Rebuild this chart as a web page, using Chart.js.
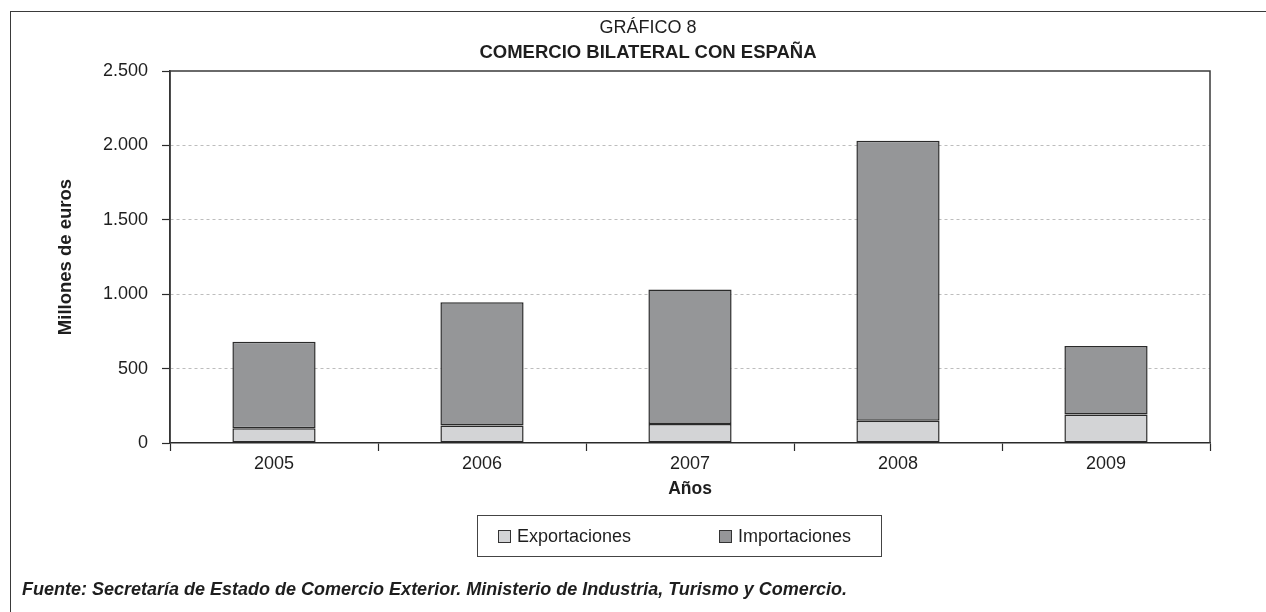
<!DOCTYPE html>
<html><head><meta charset="utf-8">
<script src="https://cdn.jsdelivr.net/npm/chart.js@4.4.1/dist/chart.umd.min.js"></script>
<style>
html,body{margin:0;padding:0;background:#fff;}
body{width:1266px;height:612px;position:relative;overflow:hidden;font-family:"Liberation Sans",Arial,Helvetica,sans-serif;color:#1e1e1e;}
#frame{position:absolute;left:10px;top:11px;width:1300px;height:700px;border:1.5px solid #3a3a3a;box-sizing:border-box;}
#wrap{position:absolute;left:0;top:0;width:1266px;height:612px;}
.ttl{position:absolute;left:398px;width:500px;text-align:center;white-space:nowrap;}
#t1{top:17px;font-size:18px;}
#t2{top:41px;font-size:18.5px;font-weight:bold;}
#legend{position:absolute;left:477px;top:515px;width:405px;height:42px;border:1px solid #444;box-sizing:border-box;font-size:18px;}
#legend .sw{position:absolute;top:14px;width:13px;height:13px;border:1px solid #333;box-sizing:border-box;}
#legend .tx{position:absolute;top:10px;white-space:nowrap;}
#foot{position:absolute;left:22px;top:579px;font-size:18px;font-weight:bold;font-style:italic;white-space:nowrap;}
</style></head>
<body>
<div id="frame"></div>
<div id="wrap"><canvas id="c" width="1266" height="612"></canvas></div>
<div class="ttl" id="t1">GRÁFICO 8</div>
<div class="ttl" id="t2">COMERCIO BILATERAL CON ESPAÑA</div>
<div id="legend"></div>
<div id="foot">Fuente: Secretaría de Estado de Comercio Exterior. Ministerio de Industria, Turismo y Comercio.</div>
<script>
const categories = ['2005','2006','2007','2008','2009'];
const exportaciones = [99, 117, 128, 150, 191];
const importaciones = [582, 829, 903, 1882, 461];
const seriesNames = ['Exportaciones','Importaciones'];
const seriesColors = ['#d3d4d6','#959698'];
const yTickValues = [0, 500, 1000, 1500, 2000, 2500];
const yTitle = 'Millones de euros';
const xTitle = 'Años';

function fmt(v){ return String(v).replace(/\B(?=(\d{3})+(?!\d))/g,'.'); }

const lg = document.getElementById('legend');
const legendX = [20, 241];
seriesNames.forEach((n,i)=>{
  const sw=document.createElement('div'); sw.className='sw'; sw.style.background=seriesColors[i]; sw.style.left=legendX[i]+'px';
  const tx=document.createElement('span'); tx.className='tx'; tx.textContent=n; tx.style.left=(legendX[i]+19)+'px';
  lg.appendChild(sw); lg.appendChild(tx);
});

const plotBorder = {
  id:'plotBorder',
  afterDatasetsDraw(chart){
    const a=chart.chartArea, ctx=chart.ctx;
    ctx.save(); ctx.strokeStyle='#3a3a3a'; ctx.lineWidth=1.5;
    ctx.beginPath();
    ctx.moveTo(a.left,a.bottom); ctx.lineTo(a.left,a.top); ctx.lineTo(a.right,a.top); ctx.lineTo(a.right,a.bottom);
    ctx.stroke(); ctx.restore();
  }
};

const FONT = "'Liberation Sans', Arial, Helvetica, sans-serif";
new Chart(document.getElementById('c'), {
  type:'bar',
  data:{
    labels:categories,
    datasets:[
      {label:seriesNames[0], data:exportaciones, backgroundColor:seriesColors[0], borderColor:'#2a2a2a', borderWidth:1.5, borderSkipped:false},
      {label:seriesNames[1], data:importaciones, backgroundColor:seriesColors[1], borderColor:'#2a2a2a', borderWidth:1.5, borderSkipped:false}
    ]
  },
  options:{
    responsive:false, animation:false, devicePixelRatio:1,
    categoryPercentage:1.0, barPercentage:0.4,
    layout:{padding:{left:50, right:56, top:71, bottom:109}},
    plugins:{legend:{display:false}, title:{display:false}, tooltip:{enabled:false}},
    scales:{
      x:{
        stacked:true, offset:true,
        afterFit(s){ s.height = 60; },
        grid:{display:true, drawOnChartArea:false, drawTicks:true, tickLength:8, tickColor:'#2a2a2a', tickWidth:1.2, offset:true},
        border:{display:true, color:'#2a2a2a', width:1.5},
        ticks:{color:'#1e1e1e', font:{family:FONT, size:18}, padding:2},
        title:{display:true, text:xTitle, color:'#1e1e1e', font:{family:FONT, size:17.5, weight:'bold'}, padding:{top:4,bottom:3}}
      },
      y:{
        stacked:true, min:0, max:2500,
        afterFit(s){ s.width = 120; },
        afterBuildTicks(s){ s.ticks = yTickValues.map(v=>({value:v})); },
        grid:{display:true, drawOnChartArea:true, drawTicks:true, tickLength:8,
          color:(c)=> (c.tick && (c.tick.value===0 || c.tick.value===2500)) ? 'rgba(0,0,0,0)' : '#bdbdbd',
          lineWidth:1, tickColor:'#2a2a2a', tickWidth:1.2, tickBorderDash:[]},
        border:{display:true, color:'#2a2a2a', width:1.5, dash:[3,3]},
        ticks:{color:'#1e1e1e', font:{family:FONT, size:18}, padding:14, callback:(v)=>fmt(v)},
        title:{display:true, text:yTitle, color:'#1e1e1e', font:{family:FONT, size:18.5, weight:'bold'}, padding:{top:5,bottom:4}}
      }
    }
  },
  plugins:[plotBorder]
});
</script>
</body></html>
